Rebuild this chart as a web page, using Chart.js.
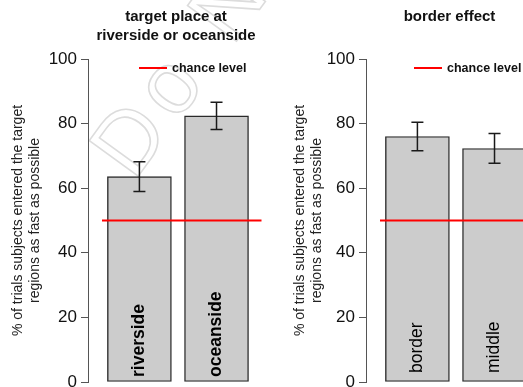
<!DOCTYPE html>
<html>
<head>
<meta charset="utf-8">
<script src="https://cdn.jsdelivr.net/npm/chart.js@4.4.1/dist/chart.umd.min.js"></script>
<style>
    html, body { margin: 0; padding: 0; background: #fff; }
    body { width: 523px; height: 387px; overflow: hidden; position: relative; }
    .panel { position: absolute; top: 0; width: 270px; height: 387px; }
</style>
</head>
<body>
<div class="panel" style="left:0"><canvas id="place-chart" width="270" height="387"></canvas></div>
<div class="panel" style="left:278px"><canvas id="border-chart" width="270" height="387"></canvas></div>
<script>
// data
const placeCategories = ['riverside', 'oceanside'];
const placeMeans = [63.6, 82.4];
const placeErrors = [4.6, 4.2];

const borderCategories = ['border', 'middle'];
const borderMeans = [76.0, 72.3];
const borderErrors = [4.4, 4.6];

const chanceLevel = 50;
const yTicks = [0, 20, 40, 60, 80, 100];
const yAxisTitle = ['% of trials subjects entered the target', 'regions as fast as possible'];

const FONT = "'Liberation Sans', Arial, sans-serif";

// draws error bars, in-bar labels, chance line, legend and panel title
const panelPlugin = {
    id: 'panelPlugin',
    beforeDraw(chart, args, opts) {
        if (!opts.watermark) return;
        const {ctx} = chart;
        ctx.save();
        ctx.translate(opts.watermark.x, opts.watermark.y);
        ctx.rotate(-54 * Math.PI / 180);
        ctx.font = `88px ${FONT}`;
        ctx.letterSpacing = '10px';
        ctx.strokeStyle = '#dcdcdc';
        ctx.lineWidth = 1.6;
        ctx.strokeText(opts.watermark.text, 0, 0);
        ctx.restore();
    },
    afterDatasetsDraw(chart, args, opts) {
        const {ctx, chartArea, scales: {x, y}} = chart;
        const meta = chart.getDatasetMeta(0);
        const ds = chart.data.datasets[0];
        ctx.save();

        // error bars
        ctx.strokeStyle = '#1a1a1a';
        ctx.lineWidth = 1.5;
        meta.data.forEach((bar, i) => {
            const m = ds.data[i].y;
            const e = opts.errors[i];
            const yTop = y.getPixelForValue(m + e);
            const yBot = y.getPixelForValue(m - e);
            ctx.beginPath();
            ctx.moveTo(bar.x, yTop); ctx.lineTo(bar.x, yBot);
            ctx.moveTo(bar.x - 6, yTop); ctx.lineTo(bar.x + 6, yTop);
            ctx.moveTo(bar.x - 6, yBot); ctx.lineTo(bar.x + 6, yBot);
            ctx.stroke();
        });

        // category names inside the bars
        ctx.fillStyle = '#000';
        ctx.font = `${opts.labelBold ? 'bold ' : ''}17.5px ${FONT}`;
        ctx.textAlign = 'left';
        ctx.textBaseline = 'middle';
        meta.data.forEach((bar, i) => {
            ctx.save();
            ctx.translate(bar.x, y.getPixelForValue(0) - opts.labelGap);
            ctx.rotate(-Math.PI / 2);
            ctx.fillText(chart.data.labels[i], 0, 0);
            ctx.restore();
        });

        // chance level line
        const yc = y.getPixelForValue(chanceLevel);
        ctx.strokeStyle = '#ff0000';
        ctx.lineWidth = 2;
        ctx.beginPath();
        ctx.moveTo(chartArea.left + opts.chanceStart, yc);
        ctx.lineTo(chartArea.right, yc);
        ctx.stroke();

        // legend
        const ly = chartArea.top + 9;
        ctx.beginPath();
        ctx.moveTo(chartArea.left + opts.legendX, ly);
        ctx.lineTo(chartArea.left + opts.legendX + 28, ly);
        ctx.stroke();
        ctx.font = `bold 12.5px ${FONT}`;
        ctx.textAlign = 'left';
        ctx.fillStyle = '#111';
        ctx.fillText('chance level', chartArea.left + opts.legendX + 33, ly + 1);

        // panel title
        ctx.font = `bold 15px ${FONT}`;
        ctx.textAlign = 'center';
        opts.title.forEach((line, i) => {
            ctx.fillText(line, opts.titleX, opts.titleY + i * 19);
        });
        ctx.restore();
    }
};

const charts = {};

function createPanel(canvasId, categories, means, errors, panelOpts) {
    const ctx = document.getElementById(canvasId).getContext('2d');
    // bar slots: width 1, gap 0.2, first bar starting at 0.2
    const points = means.map((v, i) => ({x: 0.7 + i * 1.2, y: v}));

    charts[canvasId] = new Chart(ctx, {
        type: 'bar',
        data: {
            labels: categories,
            datasets: [{
                data: points,
                backgroundColor: '#cccccc',
                borderColor: '#2a2a2a',
                borderWidth: 1.4,
                borderSkipped: false,
                barThickness: 64
            }]
        },
        options: {
            responsive: false,
            animation: false,
            layout: {padding: {left: 0, top: 59, right: 270 - 261.5, bottom: 5}},
            scales: {
                x: {
                    type: 'linear',
                    display: false,
                    offset: false,
                    grid: {offset: false},
                    min: -0.1,
                    max: 2.6
                },
                y: {
                    min: 0,
                    max: 100,
                    afterBuildTicks: scale => {
                        scale.ticks = yTicks.map(v => ({value: v}));
                    },
                    afterFit: scale => {
                        scale.width = 88;
                        scale.paddingTop = 0;
                        scale.paddingBottom = 0;
                    },
                    grid: {
                        drawOnChartArea: false,
                        drawTicks: true,
                        tickLength: 7,
                        color: '#555',
                        lineWidth: 1
                    },
                    border: {display: true, color: '#555', width: 1},
                    ticks: {
                        padding: 4,
                        color: '#111',
                        font: {family: FONT, size: 17}
                    },
                    title: {
                        display: true,
                        text: yAxisTitle,
                        color: '#222',
                        font: {family: FONT, size: 14, lineHeight: 1.2},
                        padding: {top: panelOpts.yTitlePad, bottom: 0}
                    }
                }
            },
            plugins: {
                legend: {display: false},
                tooltip: {enabled: false},
                panelPlugin: Object.assign({errors: errors}, panelOpts)
            }
        },
        plugins: [panelPlugin]
    });
}

createPanel('place-chart', placeCategories, placeMeans, placeErrors, {
    title: ['target place at', 'riverside or oceanside'],
    titleX: 176,
    titleY: 17,
    labelBold: true,
    labelGap: 5,
    legendX: 51,
    chanceStart: 14,
    yTitlePad: 10,
    watermark: {text: 'Do Not Copy', x: 134, y: 182}
});

createPanel('border-chart', borderCategories, borderMeans, borderErrors, {
    title: ['border effect'],
    titleX: 171.5,
    titleY: 17,
    labelBold: false,
    labelGap: 9,
    legendX: 48,
    chanceStart: 14,
    yTitlePad: 13.5
});
</script>
</body>
</html>
